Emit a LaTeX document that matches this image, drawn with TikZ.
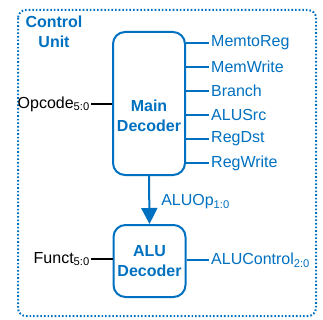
\documentclass[tikz,border=0pt]{standalone}
\usepackage{fontspec}
\setmainfont{Liberation Sans}
\usetikzlibrary{arrows.meta, positioning}
\definecolor{ctrlblue}{RGB}{0,112,192}

\begin{document}
\begin{tikzpicture}[
  x=1pt, y=-1pt,
  font=\fontsize{16}{20}\selectfont,
  dec/.style={rectangle, rounded corners=12pt, draw=ctrlblue, line width=2pt,
              minimum width=72pt, align=center},
  title/.style={text=ctrlblue, font=\fontsize{16}{20}\selectfont\bfseries, align=center},
  sig/.style={draw=ctrlblue, line width=1.3pt},
  sigin/.style={draw=black, line width=1.3pt},
  lbl/.style={text=ctrlblue, anchor=west, inner sep=2pt},
  inlbl/.style={anchor=east, inner sep=1pt},
  frame/.style={draw=ctrlblue, line width=2pt, dash pattern=on 1.6pt off 2pt, rounded corners=8pt}
]
  \useasboundingbox (0,0) rectangle (323,320);

  % control unit frame
  \draw[frame] (18,10) rectangle (316,316);
  \node[title] (cutitle) at (54,32) {Control\\Unit};

  % decoders
  \node[dec, minimum height=143pt] (main) at (149,103.5) {};
  \node[title] (maintxt) at ([yshift=-12.5pt]main.center) {Main\\Decoder};
  \node[dec, minimum height=72pt, title] (alu) at (149.5,261) {ALU\\Decoder};

  % inputs
  \node[inlbl] (opc) at (91,104) {Opcode\textsubscript{5:0}};
  \draw[sigin] (opc.east) -- (opc.east -| main.west);
  \node[inlbl] (fun) at (91,259) {Funct\textsubscript{5:0}};
  \draw[sigin] (fun.east) -- (fun.east -| alu.west);

  % main decoder outputs
  \foreach \name [count=\i] in {MemtoReg,MemWrite,Branch,ALUSrc,RegDst,RegWrite}{
    \node[lbl] (\name) at (209,{19+24*\i}) {\name};
    \draw[sig] (main.east |- \name.west) -- (\name.west);
  }

  % aluop
  \draw[sig, line width=2pt, -{Triangle[width=16pt,length=16pt]}] (main.south) --
    node[lbl, xshift=9pt, yshift=-2pt]{ALUOp\textsubscript{1:0}} (alu.north);

  % alu control
  \node[lbl] (aluctl) at (209,260) {ALUControl\textsubscript{2:0}};
  \draw[sig] (alu.east |- aluctl.west) -- (aluctl.west);
\end{tikzpicture}
\end{document}
